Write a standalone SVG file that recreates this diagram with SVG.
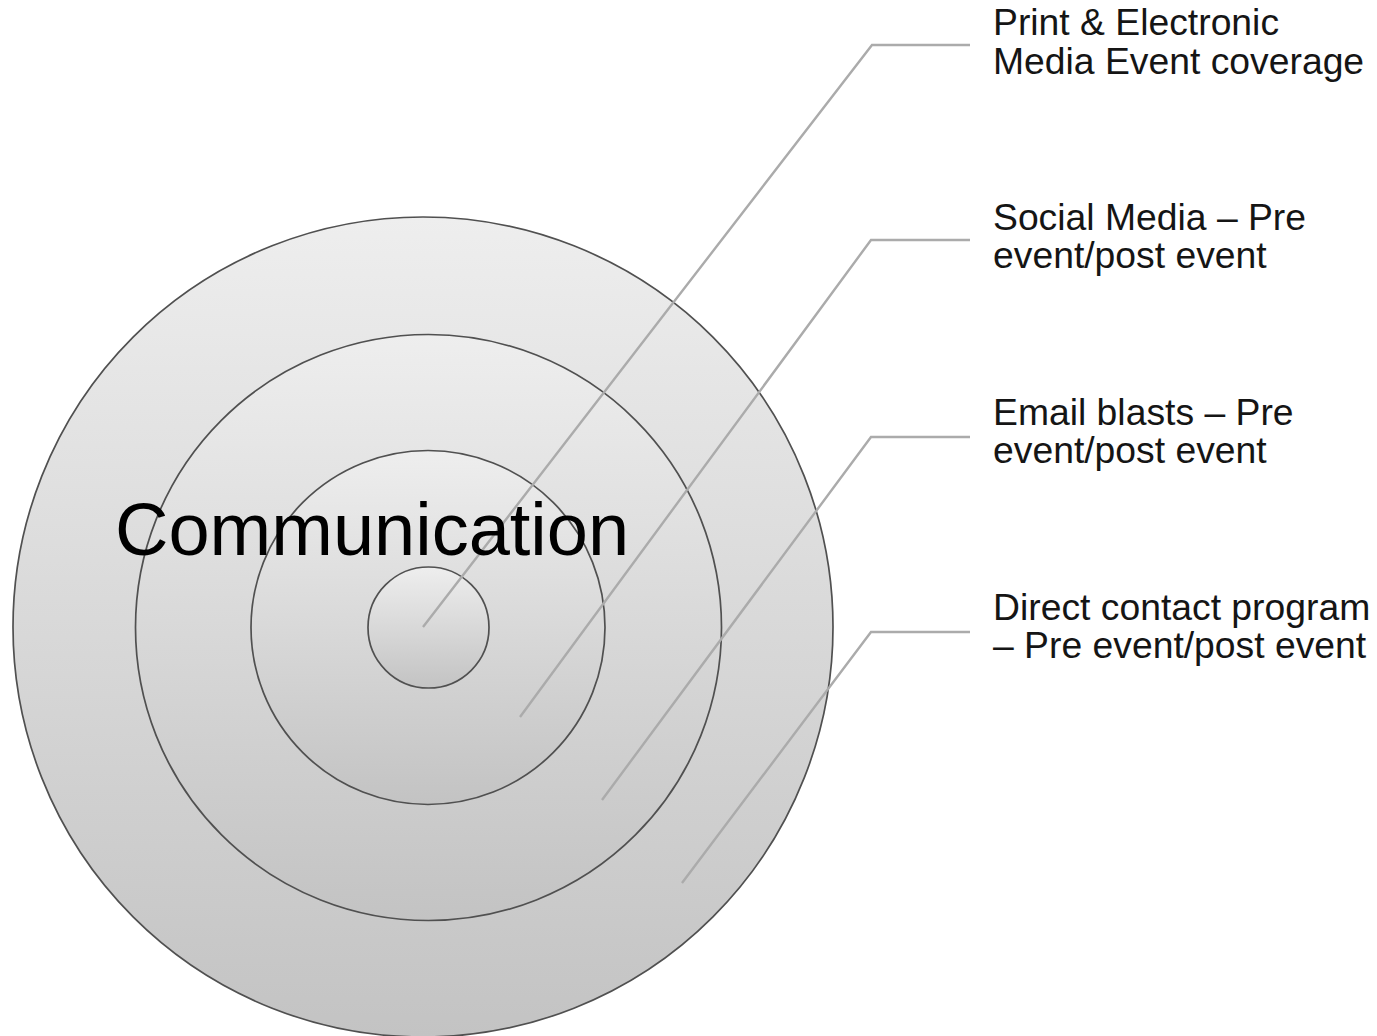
<svg xmlns="http://www.w3.org/2000/svg" width="1377" height="1036" viewBox="0 0 1377 1036">
<defs>
<linearGradient id="g" x1="0" y1="0" x2="0" y2="1">
<stop offset="0" stop-color="#eeeeee"/>
<stop offset="1" stop-color="#c3c3c3"/>
</linearGradient>
<style>
.ring{fill:url(#g);stroke:#505050;stroke-width:1.7}
.lead{fill:none;stroke:#ababab;stroke-width:2.4;stroke-linejoin:miter}
.lbl{font-family:"Liberation Sans",Arial,sans-serif;font-size:37.3px;fill:#151515}
.title{font-family:"Liberation Sans",Arial,sans-serif;font-size:74px;fill:#000}
</style>
</defs>
<rect width="1377" height="1036" fill="#fff"/>
<g id="ring-outer"><circle class="ring" cx="423" cy="627" r="410"/></g>
<g id="ring-2"><circle class="ring" cx="428.5" cy="627.5" r="293"/></g>
<g id="ring-3"><circle class="ring" cx="428" cy="627.5" r="177"/></g>
<g id="ring-inner"><circle class="ring" cx="428.5" cy="627.5" r="60.5"/></g>
<g id="connectors">
<polyline class="lead" points="970,45 872,45 423,627"/>
<polyline class="lead" points="970,240 871,240 520,717"/>
<polyline class="lead" points="970,437 871,437 602,800"/>
<polyline class="lead" points="970,632 871,632 682,883"/>
</g>
<g id="title"><text class="title" x="115" y="555">Communication</text></g>
<g id="label-1"><text class="lbl" x="993" y="35">Print &amp; Electronic</text><text class="lbl" x="993" y="74">Media Event coverage</text></g>
<g id="label-2"><text class="lbl" x="993" y="230">Social Media – Pre</text><text class="lbl" x="993" y="268">event/post event</text></g>
<g id="label-3"><text class="lbl" x="993" y="425">Email blasts – Pre</text><text class="lbl" x="993" y="463">event/post event</text></g>
<g id="label-4"><text class="lbl" x="993" y="620">Direct contact program</text><text class="lbl" x="993" y="658">– Pre event/post event</text></g>
</svg>
